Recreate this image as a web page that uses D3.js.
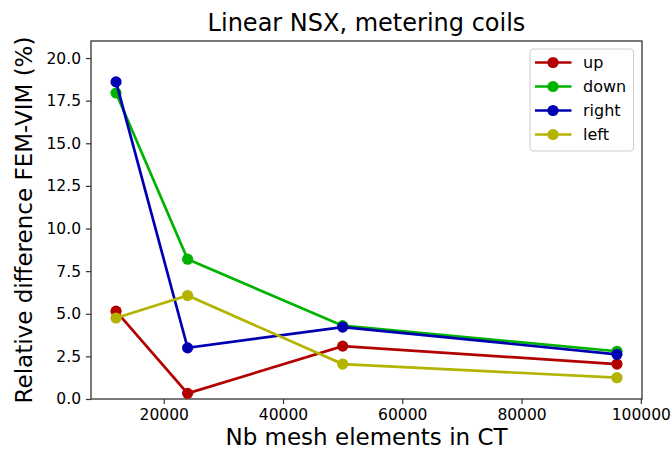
<!DOCTYPE html>
<html lang="en">
<head>
<meta charset="UTF-8">
<title>Linear NSX, metering coils</title>
<script src="https://cdn.jsdelivr.net/npm/d3@7"></script>
<style>
  body { margin: 0; background: #fff; }
  text { font-family: "DejaVu Sans", sans-serif; fill: #000; }
</style>
</head>
<body>
<script>
// data
var meshElements = [12000, 24000, 50000, 96000];
var upVals    = [5.15, 0.33, 3.1, 2.05];
var downVals  = [17.95, 8.2, 4.3, 2.8];
var rightVals = [18.6, 3.0, 4.22, 2.62];
var leftVals  = [4.75, 6.07, 2.05, 1.25];
var seriesNames = ["up", "down", "right", "left"];
var seriesColors = ["#b30000", "#00b300", "#0000b3", "#b3b300"];
var xTicks = [20000, 40000, 60000, 80000, 100000];
var yTicks = [0, 2.5, 5, 7.5, 10, 12.5, 15, 17.5, 20];

var allVals = [upVals, downVals, rightVals, leftVals];

var width = 672, height = 455;
// plot area edges
var pLeft = 91, pRight = 642, pTop = 41, pBottom = 399;

var svg = d3.select("body").append("svg")
    .attr("width", width)
    .attr("height", height);

var x = d3.scaleLinear().domain([7800, 100200]).range([pLeft, pRight]);
var y = d3.scaleLinear().domain([0, 21]).range([pBottom, pTop]);

// axes
var xAxis = d3.axisBottom(x).tickValues(xTicks).tickFormat(d3.format("d")).tickSize(5).tickPadding(5);
var yAxis = d3.axisLeft(y).tickValues(yTicks).tickFormat(d3.format(".1f")).tickSize(5).tickPadding(5);

var gx = svg.append("g").attr("transform", "translate(0," + pBottom + ")").call(xAxis);
var gy = svg.append("g").attr("transform", "translate(" + pLeft + ",0)").call(yAxis);
[gx, gy].forEach(function (g) {
    g.select(".domain").remove();
    g.selectAll("line").attr("stroke", "#333").attr("stroke-width", 1.2);
    g.selectAll("text").style("font-size", "15.5px").attr("fill", "#222");
});

// frame
svg.append("rect")
    .attr("x", pLeft).attr("y", pTop)
    .attr("width", pRight - pLeft).attr("height", pBottom - pTop)
    .attr("fill", "none").attr("stroke", "#333").attr("stroke-width", 1.3);

// lines + markers
var line = d3.line()
    .x(function (d, i) { return x(meshElements[i]); })
    .y(function (d) { return y(d); });

allVals.forEach(function (vals, k) {
    svg.append("path")
        .datum(vals)
        .attr("d", line)
        .attr("fill", "none")
        .attr("stroke", seriesColors[k])
        .attr("stroke-width", 2.7);
    svg.selectAll(".pt" + k)
        .data(vals)
        .enter()
        .append("circle")
        .attr("class", "pt" + k)
        .attr("cx", function (d, i) { return x(meshElements[i]); })
        .attr("cy", function (d) { return y(d); })
        .attr("r", 5.6)
        .attr("fill", seriesColors[k]);
});

// legend
var lg = svg.append("g");
lg.append("rect")
    .attr("x", 530).attr("y", 49).attr("width", 103.5).attr("height", 102)
    .attr("rx", 3)
    .attr("fill", "#fff").attr("fill-opacity", 0.8)
    .attr("stroke", "#ccc").attr("stroke-width", 1);
seriesNames.forEach(function (name, k) {
    var yy = 62.5 + k * 24;
    lg.append("line")
        .attr("x1", 535).attr("x2", 571.5).attr("y1", yy).attr("y2", yy)
        .attr("stroke", seriesColors[k]).attr("stroke-width", 2.7);
    lg.append("circle").attr("cx", 553).attr("cy", yy).attr("r", 5.6).attr("fill", seriesColors[k]);
    lg.append("text").attr("x", 583).attr("y", yy + 5.5).style("font-size", "16px").text(name);
});

// titles
svg.append("text")
    .attr("x", (pLeft + pRight) / 2).attr("y", 31)
    .attr("text-anchor", "middle")
    .style("font-size", "24px")
    .text("Linear NSX, metering coils");

svg.append("text")
    .attr("x", (pLeft + pRight) / 2).attr("y", 445)
    .attr("text-anchor", "middle")
    .style("font-size", "23px")
    .text("Nb mesh elements in CT");

svg.append("text")
    .attr("transform", "translate(32," + (pTop + pBottom) / 2 + ") rotate(-90)")
    .attr("text-anchor", "middle")
    .style("font-size", "23px")
    .text("Relative difference FEM-VIM (%)");
</script>
</body>
</html>
